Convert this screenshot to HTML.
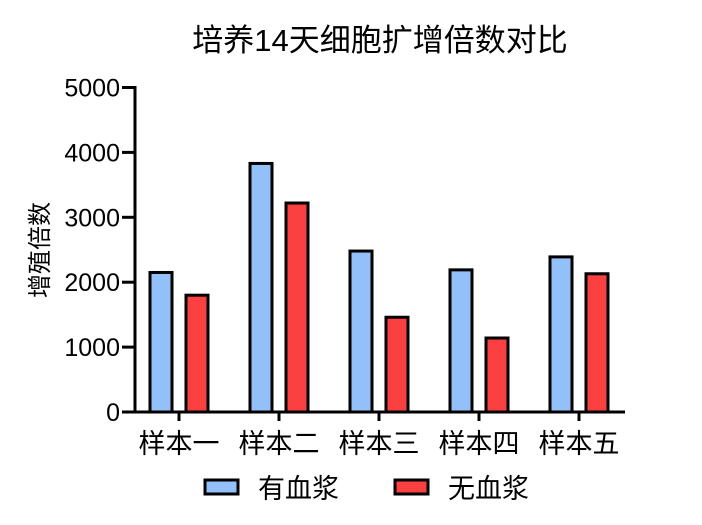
<!DOCTYPE html>
<html><head><meta charset="utf-8"><style>
body{margin:0;background:#fff}
svg{display:block;font-family:"Liberation Sans","Noto Sans CJK SC",sans-serif}
</style></head><body>
<svg id="c" width="702" height="525" viewBox="0 0 702 525">
<text x="380" y="51" font-size="31" text-anchor="middle">培养14天细胞扩增倍数对比</text>
<text transform="translate(48,250) rotate(-90)" font-size="24" text-anchor="middle">增殖倍数</text>
<g id="g"></g>
<g>
<rect x="205" y="480" width="33" height="14" fill="#93c0f8" stroke="#000" stroke-width="3"/>
<text x="258" y="498" font-size="27">有血浆</text>
<rect x="395" y="480" width="33" height="14" fill="#fa4040" stroke="#000" stroke-width="3"/>
<text x="448" y="498" font-size="27">无血浆</text>
</g>
</svg>
<script>
const categories=["样本一","样本二","样本三","样本四","样本五"];
const withSerum=[2150,3830,2480,2190,2390];
const withoutSerum=[1800,3220,1460,1140,2130];
const yTicks=[0,1000,2000,3000,4000,5000];
const NS="http://www.w3.org/2000/svg";
const g=document.getElementById('g');
const x0=135,x1=625,yBase=412,yTop=87.5,yMax=5000;
const y=v=>yBase-(v/yMax)*(yBase-yTop);
const xc=i=>179+i*100;
function mk(t,a){const e=document.createElementNS(NS,t);for(const k in a)e.setAttribute(k,a[k]);g.appendChild(e);return e;}
categories.forEach((c,i)=>{
 const b1=mk('rect',{x:xc(i)-29,y:y(withSerum[i]),width:22,height:yBase-y(withSerum[i]),fill:'#93c0f8',stroke:'#000','stroke-width':3});
 
 
 const b2=mk('rect',{x:xc(i)+7,y:y(withoutSerum[i]),width:22,height:yBase-y(withoutSerum[i]),fill:'#fa4040',stroke:'#000','stroke-width':3});
 
 
 const tk=mk('line',{x1:xc(i),x2:xc(i),y1:yBase,y2:yBase+9,stroke:'#000','stroke-width':3});
 
 
 const t=mk('text',{x:xc(i),y:yBase+41,'font-size':27,'text-anchor':'middle'});
 t.textContent=c;
 
 
});
yTicks.forEach(v=>{
 const tk=mk('line',{x1:x0-13,x2:x0,y1:y(v),y2:y(v),stroke:'#000','stroke-width':3});
 
 
 const t=mk('text',{x:x0-15,y:y(v)+9,'font-size':25,'text-anchor':'end'});
 t.textContent=v;
 
 
});
const ya=mk('line',{x1:x0,x2:x0,y1:yTop-1.5,y2:yBase+1.5,stroke:'#000','stroke-width':3});


const xa=mk('line',{x1:x0-1.5,x2:x1,y1:yBase,y2:yBase,stroke:'#000','stroke-width':3});


</script>
</body></html>
